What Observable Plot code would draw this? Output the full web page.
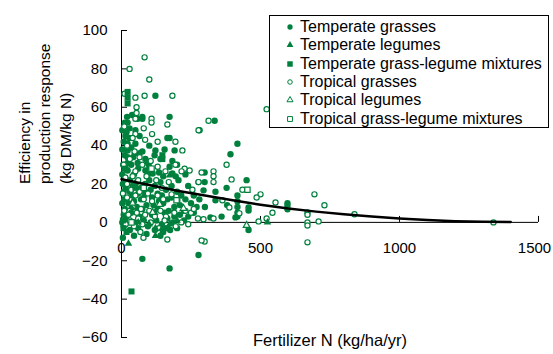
<!DOCTYPE html>
<html><head><meta charset="utf-8">
<script src="https://cdn.jsdelivr.net/npm/d3@7"></script>
<script src="https://cdn.jsdelivr.net/npm/@observablehq/plot@0.6"></script>
<style>
body{margin:0;background:#fff;}
#wrap{position:relative;width:553px;height:354px;font-family:"Liberation Sans",Arial,sans-serif;}
#legend{position:absolute;left:269px;top:15px;width:280px;height:113px;border:1px solid #000;background:#fff;box-sizing:border-box;}
.row{position:absolute;left:0;height:18px;line-height:18px;font-size:16px;white-space:nowrap;color:#000;}
.row svg{position:absolute;left:14px;top:3px;}
.row span{position:absolute;left:30px;top:0;}
</style></head><body><div id="wrap"></div>
<script>
const GREEN = "#00803d";
const xTicks = [0, 500, 1000, 1500];
const yTicks = [-60, -40, -20, 0, 20, 40, 60, 80, 100];
const seriesNames = ["Temperate grasses","Temperate legumes","Temperate grass-legume mixtures","Tropical grasses","Tropical legumes","Tropical grass-legume mixtures"];

const temperateGrasses = [
[122,66],[20,55],[38,56],[58,54],[75,55],[173,55],[335,53],[281,48],[173,44],[75,54],[22,52],[29,49],[50,48],[65,45],[14,45],[22,41],[50,41],[22,37.5],[75,37],[122,37.5],[119,35],[191,37.5],[22,34],[86,33],[22,31],[58,31],[94,31],[183,32],[173,29],[22,27],[86,27],[112,25.5],[183,25.5],[417,41],[392,35.5],[299,26],[277,21],[299,21],[450,22],[378,18],[295,16.7],[338,16],[338,11.5],[417,14],[417,11],[417,8],[417,5],[417,3],[457,7.8],[457,6.2],[320,2.6],[410,2.6],[457,-4],[597,10],[597,8.5],[597,6.8],[75,-19],[173,-24],[277,-17],
[5,20],[15,18],[30,22],[40,19],[55,21],[70,18],[85,20],[100,22],[120,19],[140,21],[160,17],[180,19],[200,16],[215,14],[230,12],[250,10],[270,8],[10,12],[25,10],[40,14],[55,8],[70,12],[90,9],[110,13],[130,7],[150,10],[170,6],[190,8],[210,4],[240,3],[260,5],[8,4],[20,2],[35,5],[50,0],[65,3],[80,1],[95,-2],[110,4],[125,1],[145,-1],[165,2],[185,0],[200,-3],[225,1],[5,-8],[30,-4],[45,-7],[60,-3],[90,-6],[150,-5],[175,-4],[15,28],[45,25],[60,28],[100,29],[135,26],[150,24],[205,22],[240,19],[260,14],[12,35],[35,39],[65,36],[100,40],[140,33],[155,38],[165,44],[200,30],[230,25],[280,12],[300,8],[360,3],[380,9],
[3,48],[8,42],[3,38],[6,30],[3,25],[8,16],[3,10],[12,7],[3,0],[8,-2],[18,47],[28,44],[12,52],[35,30],[42,34],[48,36],[30,16],[45,11],[60,15],[75,7],[85,16],[95,25],[105,17],[115,9],[130,15],[135,11],[145,14],[155,5],[165,12],[180,13],[195,24],[210,9],[225,6],[120,-4],[140,-7],[160,-3],[190,3]
];
const temperateLegumes = [[525,0],[25,-11],[122,-3],[122,-7],[147,-3],[169,-2.6],[147,-5],[173,24.5],[120,5],[173,-1],[100,-1],[60,0],[200,1],[35,8],[80,14]];
const temperateMixtures = [[22,62],[22,65],[22,68],[147,33],[147,35],[18,-5],[36,-36],[7,-3],[5,1],[10,28],[50,18]];
const tropicalGrasses = [
[29,80],[83,86],[100,74.5],[11,67],[50,65],[83,66],[183,66],[54,60],[54,57],[50,54],[108,54],[313,53],[165,51],[522,59],[108,52],[277,48],[50,46],[194,42],[47,37],[219,37.5],[65,34],[194,30],[227,28],[50,26.6],[158,26.6],[216,26.6],[245,27],[288,26],[331,26.6],[331,24],[331,21],[277,21],[378,30],[396,22.4],[435,17],[500,14.6],[554,10.4],[543,5],[486,13],[363,11.5],[388,7.8],[424,4.7],[331,2],[295,1.6],[493,0.5],[522,2],[694,14.6],[730,8.9],[669,5.2],[669,4],[669,0],[669,-1.6],[709,0.5],[838,4.2],[669,-10.4],[1338,0],[299,-10],[79,-8],[165,-8.9],[68,-5],[288,-9.4],[14,23.4],
[5,15],[20,13],[35,17],[50,14],[65,16],[80,12],[95,15],[110,11],[130,14],[150,12],[180,14.6],[201,11.5],[10,6],[25,4],[40,8],[55,5],[70,7],[85,4],[100,6],[120,3],[140,6],[160,3],[190,5],[230,6],[250,5],[15,-1],[30,1],[45,-2],[60,2],[75,-1],[105,0],[135,-3],[155,1],[195,-2],[215,0],[20,20],[40,24],[60,22],[90,24],[125,22],[145,18],[170,21],[255,17],[8,30],[30,33],[75,30],[105,32],[130,29],[20,40],[40,44],[85,43],[110,46],[130,42],[10,50],[80,49],[260,7],[240,-1],[275,2]
];
const tropicalLegumes = [[450,-1.6],[223,7.3],[137,9.4],[112,5.2],[40,10]];
const tropicalMixtures = [[453,17],[108,28],[198,11.5],[36,0],[80,18]];

const fitX = [0,100,200,300,400,500,600,700,800,900,1000,1100,1200,1300,1400];
const fitY = [22.5,19.5,16.5,14,11.5,9.2,7.2,5.6,4.2,3,2,1.2,0.6,0.3,0.2];
const fit = fitX.map((x,i)=>({x, y: fitY[i]}));

const styles = [
  {pts: temperateGrasses, symbol:"circle", filled:true, r:3.2},
  {pts: tropicalGrasses, symbol:"circle", filled:false, r:2.6},
  {pts: temperateLegumes, symbol:"triangle", filled:true, r:2.8},
  {pts: temperateMixtures, symbol:"square", filled:true, r:3.4},
  {pts: tropicalLegumes, symbol:"triangle", filled:false, r:2.5},
  {pts: tropicalMixtures, symbol:"square", filled:false, r:3.0}
];

const dotMarks = styles.map(s => Plot.dot(s.pts, {
  x: d=>d[0], y: d=>d[1], symbol: s.symbol, r: s.r,
  fill: s.filled ? GREEN : "#fff", stroke: s.filled ? "none" : GREEN, strokeWidth: 1.2
}));

const chart = Plot.plot({
  width: 553, height: 354,
  marginLeft: 121, marginRight: 15, marginTop: 30, marginBottom: 17,
  x: {domain: [0, 1500], axis: null},
  y: {domain: [-60, 100], axis: null},
  style: {fontFamily: '"Liberation Sans", Arial, sans-serif', fontSize: "15px", color: "#000", background: "#fff"},
  marks: [
    Plot.ruleY([0], {stroke: "#000", strokeWidth: 1}),
    Plot.ruleX([0], {stroke: "#000", strokeWidth: 1}),
    Plot.ruleX(xTicks.slice(1), {y1: 0, y2: 3.1, stroke: "#000"}),
    Plot.axisY(yTicks, {tickSize: -6, tickPadding: 20, fontSize: 15, label: null, stroke: "#000", fill: "#000"}),
    ...dotMarks,
    Plot.line(fit, {x: "x", y: "y", stroke: "#000", strokeWidth: 2.5}),
    Plot.text(xTicks.slice(0, -1), {x: d=>d, y: 0, dy: 26, fontSize: 15, fill: "#000", text: d => String(d)}),
    Plot.text(xTicks.slice(-1), {x: d=>d, y: 0, dy: 26, dx: -4, fontSize: 15, fill: "#000", text: d => String(d)}),
    Plot.text(["Fertilizer N (kg/ha/yr)"], {frameAnchor: "bottom", dy: 8, fontSize: 16.5, fill: "#000"}),
    Plot.text(["Efficiency in\nproduction response\n(kg DM/kg N)"], {frameAnchor: "left", rotate: -90, dx: -78, fontSize: 15.5, lineHeight: 1.32, fill: "#000"})
  ]
});
const wrap = document.getElementById("wrap");
wrap.appendChild(chart);

// legend
const legend = document.createElement("div");
legend.id = "legend";
const legendStyles = [
  {symbol: d3.symbolCircle, filled: true, size: 22},
  {symbol: d3.symbolTriangle, filled: true, size: 20},
  {symbol: d3.symbolSquare, filled: true, size: 30},
  {symbol: d3.symbolCircle, filled: false, size: 16},
  {symbol: d3.symbolTriangle, filled: false, size: 16},
  {symbol: d3.symbolSquare, filled: false, size: 24}
];
seriesNames.forEach((name, i) => {
  const row = document.createElement("div");
  row.className = "row";
  row.style.top = (2 + i * 18.3) + "px";
  const ls = legendStyles[i];
  const path = d3.symbol(ls.symbol, ls.size)();
  row.innerHTML = `<svg width="12" height="12" viewBox="-6 -6 12 12"><path d="${path}" fill="${ls.filled ? GREEN : "#fff"}" stroke="${ls.filled ? "none" : GREEN}" stroke-width="1"/></svg><span>${name}</span>`;
  legend.appendChild(row);
});
wrap.appendChild(legend);
</script>
</body></html>
